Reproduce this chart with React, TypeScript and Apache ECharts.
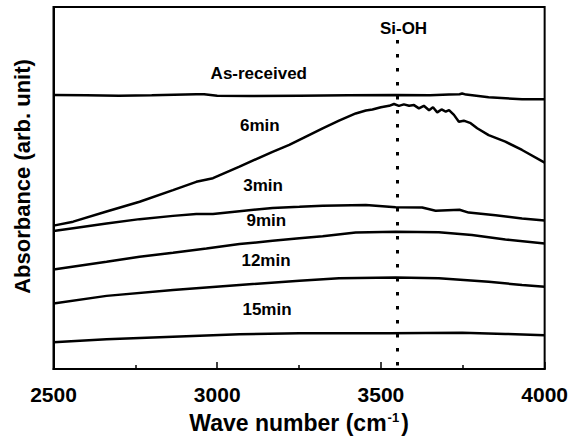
import React, { useEffect, useRef } from "react";
import * as echarts from "echarts";

const FONT = '"Liberation Sans", Arial, Helvetica, sans-serif';

const xMin = 2500;
const xMax = 4000;
const xInterval = 500;
const siOhPosition = 3550;
const siOhLineTop = 90.9;
const yTitle = "Absorbance (arb. unit)";

const seriesNames = ["As-received", "6min", "3min", "9min", "12min", "15min"];

const asReceived: [number, number][] = [
  [2500, 75.7], [2600, 75.6], [2700, 75.5], [2800, 75.6], [2936, 75.9], [2960, 75.9],
  [3000, 75.5], [3100, 75.4], [3251, 75.5], [3400, 75.6], [3545, 75.7], [3650, 75.6],
  [3708, 75.8], [3740, 75.9], [3748, 76.1], [3760, 75.8], [3829, 75.1], [3931, 74.5], [4000, 74.5],
];

const sixMin: [number, number][] = [
  [2500, 39.6], [2560, 40.7], [2662, 43.5], [2763, 46.2], [2865, 49.4], [2936, 51.7],
  [2987, 52.7], [3068, 55.9], [3169, 60.0], [3220, 61.9], [3251, 63.3], [3322, 66.5],
  [3372, 68.6], [3423, 70.6], [3454, 71.4], [3474, 71.7], [3500, 72.3], [3525, 72.7],
  [3540, 73.2], [3555, 72.7], [3570, 73.1], [3586, 72.7], [3601, 72.9], [3616, 72.0],
  [3631, 72.7], [3647, 71.5], [3659, 72.3], [3672, 70.9], [3685, 71.7], [3698, 71.1],
  [3708, 71.5], [3723, 70.2], [3738, 68.3], [3753, 68.6], [3774, 67.9], [3794, 66.5],
  [3829, 64.6], [3880, 62.8], [3931, 60.5], [4000, 57.0],
];

const threeMin: [number, number][] = [
  [2500, 38.1], [2560, 38.9], [2662, 40.2], [2763, 41.4], [2865, 42.3], [2936, 42.8],
  [2987, 42.8], [3068, 43.6], [3169, 44.5], [3251, 44.8], [3322, 45.1], [3454, 45.3],
  [3545, 44.7], [3626, 44.6], [3667, 43.7], [3740, 44.0], [3768, 43.2], [3850, 42.5],
  [3931, 41.6], [4000, 41.0],
];

const nineMin: [number, number][] = [
  [2500, 27.5], [2662, 29.6], [2763, 31.0], [2865, 32.1], [2967, 33.3], [3068, 34.5],
  [3169, 35.4], [3251, 36.1], [3322, 36.7], [3423, 37.7], [3545, 37.9], [3677, 37.8],
  [3778, 37.0], [3880, 35.8], [4000, 34.7],
];

const twelveMin: [number, number][] = [
  [2500, 18.1], [2662, 20.2], [2865, 21.8], [3068, 23.2], [3251, 24.4], [3372, 25.1],
  [3545, 25.3], [3677, 25.1], [3829, 24.1], [3931, 23.2], [4000, 22.7],
];

const fifteenMin: [number, number][] = [
  [2500, 7.4], [2662, 8.2], [2865, 8.9], [3068, 9.6], [3251, 9.9], [3525, 9.9],
  [3748, 10.0], [3880, 9.7], [4000, 9.3],
];

const seriesData = [asReceived, sixMin, threeMin, nineMin, twelveMin, fifteenMin];

const labelPositions: [number, number][] = [
  [3127, 81.7], [3130, 67.3], [3140, 50.6], [3150, 40.9], [3149, 29.9], [3152, 16.5],
];
const siOhLabelPosition: [number, number] = [3569, 94.1];

const makeLabel = (text: string) => ({
  show: true,
  position: "inside" as const,
  formatter: text,
  fontSize: 17,
  fontWeight: "bold" as const,
  fontFamily: FONT,
  color: "#000",
});

export default function App() {
  const ref = useRef<HTMLDivElement>(null);

  useEffect(() => {
    if (!ref.current) return;
    const chart = echarts.init(ref.current, undefined, { renderer: "svg" });

    const series: any[] = seriesNames.map((name, i) => {
      const mpData: any[] = [{ name, coord: labelPositions[i], label: makeLabel(name) }];
      if (i === 0) {
        mpData.push({ name: "Si-OH", coord: siOhLabelPosition, label: makeLabel("Si-OH") });
      }
      const s: any = {
        name,
        type: "line",
        data: seriesData[i],
        showSymbol: false,
        symbol: "none",
        lineStyle: { color: "#000", width: 2.5 },
        silent: true,
        markPoint: {
          symbol: "circle",
          symbolSize: 0,
          silent: true,
          label: makeLabel(name),
          data: mpData,
        },
      };
      if (i === 0) {
        s.markLine = {
          symbol: ["none", "none"],
          silent: true,
          label: { show: false },
          lineStyle: { color: "#000", width: 3, type: [3.5, 10.5], cap: "butt" },
          data: [[{ coord: [siOhPosition, siOhLineTop] }, { coord: [siOhPosition, 0.5] }]],
        };
      }
      return s;
    });

    chart.setOption({
      animation: false,
      grid: {
        left: 53.5,
        right: 25,
        top: 7,
        bottom: 75,
        show: true,
        borderColor: "#000",
        borderWidth: 2,
        backgroundColor: "transparent",
      },
      graphic: [
        {
          type: "text",
          x: 22.5,
          y: 176.5,
          rotation: Math.PI / 2,
          silent: true,
          style: {
            text: yTitle,
            fontSize: 22,
            fontWeight: "bold",
            fontFamily: FONT,
            fill: "#000",
            align: "center",
            verticalAlign: "middle",
          },
        },
      ],
      xAxis: {
        type: "value",
        min: xMin,
        max: xMax,
        interval: xInterval,
        axisLine: { show: true, lineStyle: { color: "#000", width: 2 } },
        axisTick: { show: true, inside: true, length: 7, lineStyle: { color: "#000", width: 1.5 } },
        minorTick: { show: true, splitNumber: 2, length: 4, lineStyle: { color: "#000", width: 1.5 } },
        splitLine: { show: false },
        minorSplitLine: { show: false },
        axisLabel: {
          fontSize: 21,
          fontWeight: "bold",
          fontFamily: FONT,
          color: "#000",
          margin: 15,
          formatter: (v: number) => String(v),
        },
        name: "{a|Wave number (cm}{s|-1}{a|)}",
        nameLocation: "middle",
        nameGap: 42,
        nameTextStyle: {
          fontSize: 23,
          fontWeight: "bold",
          fontFamily: FONT,
          color: "#000",
          rich: {
            a: { fontSize: 23, fontWeight: "bold", fontFamily: FONT, color: "#000" },
            s: {
              fontSize: 13,
              fontWeight: "bold",
              fontFamily: FONT,
              color: "#000",
              verticalAlign: "top",
              padding: [0, 2, 0, 1],
            },
          },
        },
      },
      yAxis: {
        type: "value",
        min: 0,
        max: 100,
        axisLine: { show: true, lineStyle: { color: "#000", width: 2 } },
        axisTick: { show: false },
        axisLabel: { show: false },
        splitLine: { show: false },
      },
      series,
    });

    return () => chart.dispose();
  }, []);

  return (
    <div
      ref={ref}
      style={{ position: "fixed", left: 0, top: 0, width: 571, height: 444, background: "#fff" }}
    />
  );
}
